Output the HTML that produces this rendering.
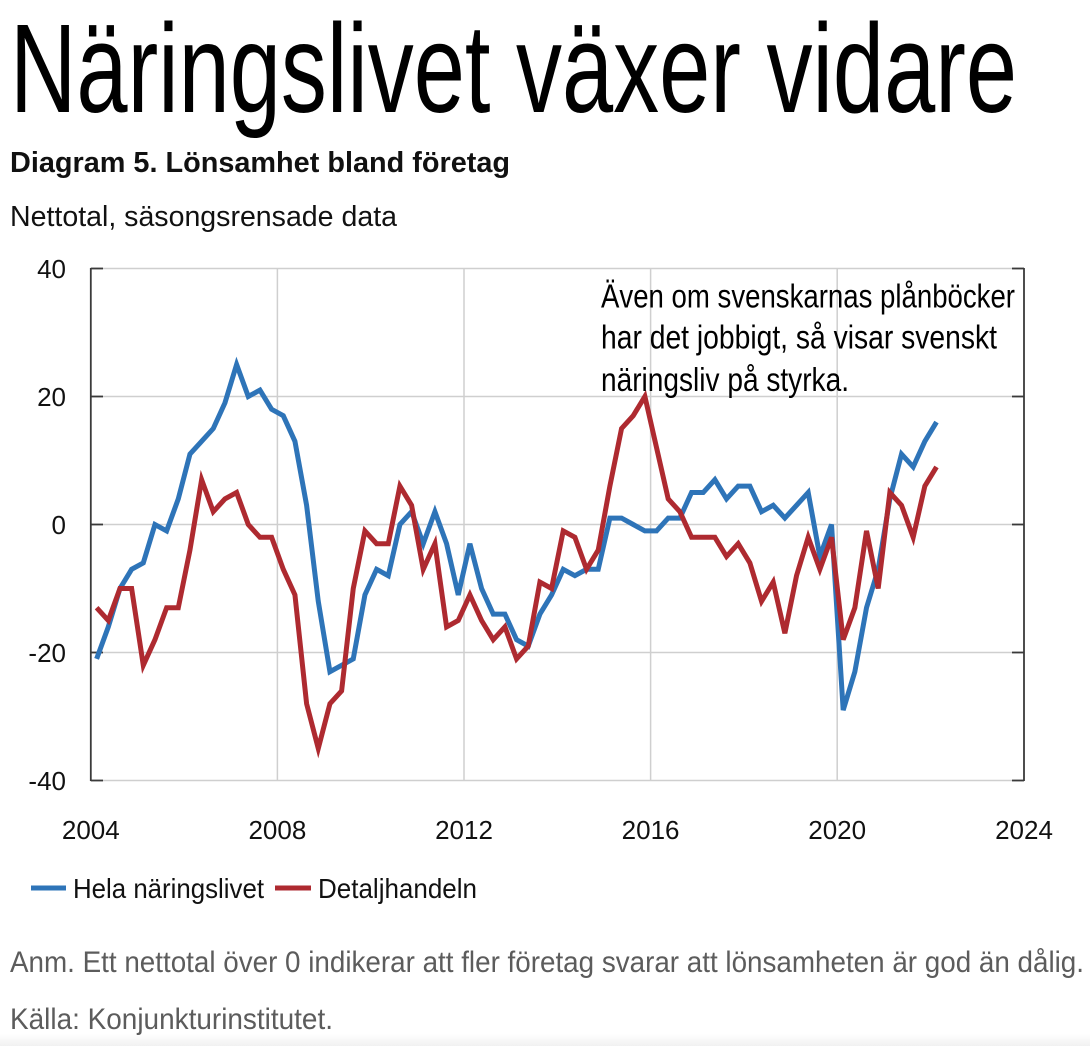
<!DOCTYPE html>
<html>
<head>
<meta charset="utf-8">
<style>
  html, body { margin: 0; padding: 0; background: #ffffff; }
  body { width: 1090px; height: 1046px; overflow: hidden; }
  svg { display: block; }
  text { font-family: "Liberation Sans", "DejaVu Sans", sans-serif; }
</style>
</head>
<body>
<svg width="1090" height="1046" viewBox="0 0 1090 1046" xmlns="http://www.w3.org/2000/svg">
  <defs>
    <linearGradient id="bot" x1="0" y1="0" x2="0" y2="1">
      <stop offset="0" stop-color="#ffffff"/>
      <stop offset="1" stop-color="#f1f1f1"/>
    </linearGradient>
  </defs>
  <rect x="0" y="0" width="1090" height="1046" fill="#ffffff"/>
  <rect x="0" y="1034" width="1090" height="12" fill="url(#bot)"/>

  <!-- Title -->
  <text x="10" y="112" font-size="126" fill="#000" textLength="1007" lengthAdjust="spacingAndGlyphs">Näringslivet växer vidare</text>
  <text x="10" y="172" font-size="29" font-weight="bold" fill="#111" textLength="500" lengthAdjust="spacingAndGlyphs">Diagram 5. Lönsamhet bland företag</text>
  <text x="10" y="226" font-size="29" fill="#111" textLength="387" lengthAdjust="spacingAndGlyphs">Nettotal, säsongsrensade data</text>

  <!-- Gridlines -->
  <g stroke="#cfcfcf" stroke-width="1.5" fill="none">
    <line x1="90.8" y1="268.5" x2="1024" y2="268.5"/>
    <line x1="90.8" y1="396.5" x2="1024" y2="396.5"/>
    <line x1="90.8" y1="524.5" x2="1024" y2="524.5"/>
    <line x1="90.8" y1="652.5" x2="1024" y2="652.5"/>
    <line x1="90.8" y1="780.5" x2="1024" y2="780.5"/>
    <line x1="277.4" y1="268.5" x2="277.4" y2="780.5"/>
    <line x1="464.0" y1="268.5" x2="464.0" y2="780.5"/>
    <line x1="650.6" y1="268.5" x2="650.6" y2="780.5"/>
    <line x1="837.2" y1="268.5" x2="837.2" y2="780.5"/>
  </g>

  <!-- Axes -->
  <g stroke="#3a3a3a" stroke-width="1.8" fill="none">
    <line x1="90.8" y1="268" x2="90.8" y2="781"/>
    <line x1="1024" y1="268" x2="1024" y2="781"/>
    <line x1="90.8" y1="268.5" x2="103" y2="268.5"/>
    <line x1="90.8" y1="396.5" x2="103" y2="396.5"/>
    <line x1="90.8" y1="524.5" x2="103" y2="524.5"/>
    <line x1="90.8" y1="652.5" x2="103" y2="652.5"/>
    <line x1="90.8" y1="780.5" x2="103" y2="780.5"/>
    <line x1="1012" y1="268.5" x2="1024" y2="268.5"/>
    <line x1="1012" y1="396.5" x2="1024" y2="396.5"/>
    <line x1="1012" y1="524.5" x2="1024" y2="524.5"/>
    <line x1="1012" y1="652.5" x2="1024" y2="652.5"/>
    <line x1="1012" y1="780.5" x2="1024" y2="780.5"/>
  </g>

  <!-- Y labels -->
  <g font-size="26" fill="#111" text-anchor="end">
    <text x="66" y="278">40</text>
    <text x="66" y="406">20</text>
    <text x="66" y="534">0</text>
    <text x="66" y="662">-20</text>
    <text x="66" y="790">-40</text>
  </g>

  <!-- X labels -->
  <g font-size="26" fill="#111" text-anchor="middle">
    <text x="90.8" y="839">2004</text>
    <text x="277.4" y="839">2008</text>
    <text x="464.0" y="839">2012</text>
    <text x="650.6" y="839">2016</text>
    <text x="837.2" y="839">2020</text>
    <text x="1024" y="839">2024</text>
  </g>

  <!-- Series -->
  <g transform="translate(96.63,524.5) scale(11.665,-6.4)">
    <polyline fill="none" stroke="#2E74B8" stroke-width="5" stroke-linejoin="miter" vector-effect="non-scaling-stroke"
      points="0,-21 1,-16 2,-10 3,-7 4,-6 5,0 6,-1 7,4 8,11 9,13 10,15 11,19 12,25 13,20 14,21 15,18 16,17 17,13 18,3 19,-12 20,-23 21,-22 22,-21 23,-11 24,-7 25,-8 26,0 27,2 28,-3 29,2 30,-3 31,-11 32,-3 33,-10 34,-14 35,-14 36,-18 37,-19 38,-14 39,-11 40,-7 41,-8 42,-7 43,-7 44,1 45,1 46,0 47,-1 48,-1 49,1 50,1 51,5 52,5 53,7 54,4 55,6 56,6 57,2 58,3 59,1 60,3 61,5 62,-5 63,0 64,-29 65,-23 66,-13 67,-7 68,4 69,11 70,9 71,13 72,16"/>
    <polyline fill="none" stroke="#AE2A30" stroke-width="5" stroke-linejoin="miter" vector-effect="non-scaling-stroke"
      points="0,-13 1,-15 2,-10 3,-10 4,-22 5,-18 6,-13 7,-13 8,-4 9,7 10,2 11,4 12,5 13,0 14,-2 15,-2 16,-7 17,-11 18,-28 19,-35 20,-28 21,-26 22,-10 23,-1 24,-3 25,-3 26,6 27,3 28,-7 29,-3 30,-16 31,-15 32,-11 33,-15 34,-18 35,-16 36,-21 37,-19 38,-9 39,-10 40,-1 41,-2 42,-7 43,-4 44,6 45,15 46,17 47,20 48,12 49,4 50,2 51,-2 52,-2 53,-2 54,-5 55,-3 56,-6 57,-12 58,-9 59,-17 60,-8 61,-2 62,-7 63,-2 64,-18 65,-13 66,-1 67,-10 68,5 69,3 70,-2 71,6 72,9"/>
  </g>

  <!-- Annotation -->
  <g font-size="33" fill="#000">
    <text x="601" y="307.5" textLength="414" lengthAdjust="spacingAndGlyphs">Även om svenskarnas plånböcker</text>
    <text x="601" y="348.5" textLength="396" lengthAdjust="spacingAndGlyphs">har det jobbigt, så visar svenskt</text>
    <text x="601" y="391" textLength="248" lengthAdjust="spacingAndGlyphs">näringsliv på styrka.</text>
  </g>

  <!-- Legend -->
  <line x1="31" y1="888" x2="66" y2="888" stroke="#2E74B8" stroke-width="5"/>
  <text x="73" y="898" font-size="28" fill="#111" textLength="191" lengthAdjust="spacingAndGlyphs">Hela näringslivet</text>
  <line x1="275" y1="888" x2="311" y2="888" stroke="#AE2A30" stroke-width="5"/>
  <text x="318" y="898" font-size="28" fill="#111" textLength="159" lengthAdjust="spacingAndGlyphs">Detaljhandeln</text>

  <!-- Notes -->
  <text x="10" y="972" font-size="30" fill="#5c5c5c" textLength="1074" lengthAdjust="spacingAndGlyphs">Anm. Ett nettotal över 0 indikerar att fler företag svarar att lönsamheten är god än dålig.</text>
  <text x="10" y="1029" font-size="30" fill="#5c5c5c" textLength="323" lengthAdjust="spacingAndGlyphs">Källa: Konjunkturinstitutet.</text>
</svg>
</body>
</html>
